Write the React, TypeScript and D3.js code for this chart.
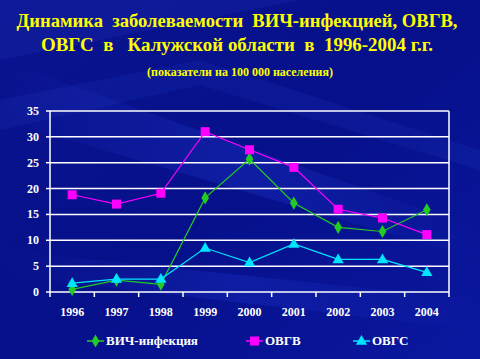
import React from "react";
import * as d3 from "d3";

const years = ["1996", "1997", "1998", "1999", "2000", "2001", "2002", "2003", "2004"];
const hiv = [0.5, 2.3, 1.5, 18.2, 25.7, 17.2, 12.5, 11.7, 15.9];
const hbv = [18.8, 17.0, 19.1, 31.0, 27.5, 24.1, 16.0, 14.3, 11.1];
const hcv = [1.7, 2.5, 2.5, 8.5, 5.7, 9.3, 6.3, 6.3, 3.8];
const yTicks = [0, 5, 10, 15, 20, 25, 30, 35];

const series = [
  { name: "ВИЧ-инфекция", values: hiv, color: "#22cc22", marker: "diamond" },
  { name: "ОВГВ", values: hbv, color: "#ff00ff", marker: "square" },
  { name: "ОВГС", values: hcv, color: "#00e5ff", marker: "triangle" },
];

const W = 480, H = 359;
const left = 50, right = 449, top = 111, bottom = 292;

const font = "'Liberation Serif', 'Times New Roman', serif";

function Marker({ type, x, y, color }: { type: string; x: number; y: number; color: string }) {
  if (type === "square") return <rect x={x - 4.5} y={y - 4.5} width={9} height={9} fill={color} />;
  if (type === "triangle") {
    const s = d3.symbol().type(d3.symbolTriangle).size(55)();
    return <path d={s || ""} transform={`translate(${x},${y + 0.5})`} fill={color} />;
  }
  const s = d3.symbol().type(d3.symbolDiamond).size(50)();
  return <path d={s || ""} transform={`translate(${x},${y})`} fill={color} />;
}

export default function App() {
  const x = d3.scaleBand().domain(years).range([left, right]);
  const y = d3.scaleLinear().domain([0, 35]).range([bottom, top]);
  const cx = (d: string) => (x(d) as number) + x.bandwidth() / 2;
  const line = d3.line<number>().x((_, i) => cx(years[i])).y(d => y(d));

  const legend = [
    { x0: 87, tx: 106 },
    { x0: 246, tx: 265 },
    { x0: 353, tx: 372 },
  ];

  return (
    <svg width={W} height={H} style={{ position: "fixed", left: 0, top: 0 }} fontFamily={font}>
      <defs>
        <linearGradient id="bg" x1="0" y1="0" x2="1" y2="1">
          <stop offset="0" stopColor="#0a1490" />
          <stop offset="0.5" stopColor="#06108a" />
          <stop offset="1" stopColor="#0a18a0" />
        </linearGradient>
        <linearGradient id="streak" x1="0" y1="0" x2="1" y2="0">
          <stop offset="0" stopColor="#3050ff" stopOpacity="0" />
          <stop offset="0.5" stopColor="#3050ff" stopOpacity="0.35" />
          <stop offset="1" stopColor="#3050ff" stopOpacity="0" />
        </linearGradient>
      </defs>
      <rect width={W} height={H} fill="url(#bg)" />
      <polygon points="0,60 480,230 480,260 0,120" fill="url(#streak)" opacity={0.6} />
      <polygon points="0,250 480,300 480,330 0,275" fill="url(#streak)" opacity={0.5} />
      <polygon points="0,0 300,0 0,60" fill="#1a2ab0" opacity={0.3} />
      <polygon points="0,100 200,60 480,150 480,170 200,85 0,130" fill="#2a40d0" opacity={0.15} />

      <g fill="#ffff00" fontWeight="bold" textAnchor="middle">
        <text x={237} y={27} fontSize={18.5} xmlSpace="preserve" textLength={441} lengthAdjust="spacingAndGlyphs">{"Динамика  заболеваемости  ВИЧ-инфекцией, ОВГВ,"}</text>
        <text x={237} y={51} fontSize={18.5} xmlSpace="preserve" textLength={392} lengthAdjust="spacingAndGlyphs">{"ОВГС  в   Калужской области  в  1996-2004 г.г."}</text>
        <text x={240} y={76} fontSize={12} textLength={186} lengthAdjust="spacingAndGlyphs">(показатели на 100 000 населения)</text>
      </g>

      {yTicks.map(t => (
        <g key={t}>
          <line x1={left} x2={right} y1={y(t)} y2={y(t)} stroke="#fff" strokeWidth={1.5} />
          <line x1={left - 4} x2={left} y1={y(t)} y2={y(t)} stroke="#fff" strokeWidth={1.5} />
          <text x={left - 11} y={y(t) + 4} fill="#fff" fontSize={12} fontWeight="bold" textAnchor="end">{t}</text>
        </g>
      ))}
      <line x1={left} x2={left} y1={top} y2={bottom} stroke="#fff" strokeWidth={1.5} />
      <line x1={right} x2={right} y1={top} y2={bottom} stroke="#fff" strokeWidth={1.5} />
      {years.map((yr, i) => (
        <line key={"t" + i} x1={x(yr) as number} x2={x(yr) as number} y1={bottom} y2={bottom + 5} stroke="#fff" strokeWidth={1.5} />
      ))}
      <line x1={right} x2={right} y1={bottom} y2={bottom + 5} stroke="#fff" strokeWidth={1.5} />
      {years.map(yr => (
        <text key={yr} x={cx(yr)} y={316} fill="#fff" fontSize={12} fontWeight="bold" textAnchor="middle">{yr}</text>
      ))}

      {series.map(s => (
        <g key={s.name}>
          <path d={line(s.values) || ""} fill="none" stroke={s.color} strokeWidth={1.2} />
          {s.values.map((v, i) => (
            <Marker key={i} type={s.marker} x={cx(years[i])} y={y(v)} color={s.color} />
          ))}
        </g>
      ))}

      {series.map((s, i) => (
        <g key={"lg" + s.name}>
          <line x1={legend[i].x0} x2={legend[i].x0 + 17} y1={341} y2={341} stroke={s.color} strokeWidth={1.5} />
          <Marker type={s.marker} x={legend[i].x0 + 8.5} y={341} color={s.color} />
          <text x={legend[i].tx} y={345} fill="#fff" fontSize={13} fontWeight="bold">{s.name}</text>
        </g>
      ))}
    </svg>
  );
}
